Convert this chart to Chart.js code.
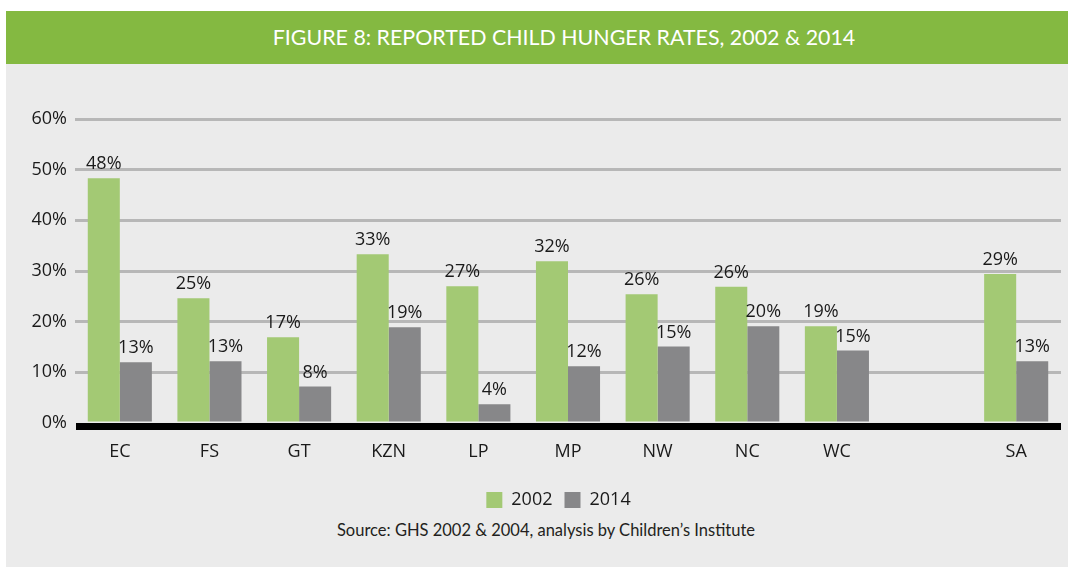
<!DOCTYPE html>
<html>
<head>
<meta charset="utf-8">
<script src="https://cdn.jsdelivr.net/npm/chart.js@4.4.1/dist/chart.umd.min.js"></script>
<style>
  body { margin: 0; background: #ffffff; }
  #panel { position: absolute; left: 6px; top: 11px; width: 1062px; height: 556px; background: #ebebeb; }
  #header { height: 53px; background: #84b941; color: #ffffff; font-family: Lato, sans-serif; font-size: 21.4px;
            text-align: center; line-height: 53px; padding-left: 54px; box-sizing: border-box; }
  #wrap { position: absolute; left: 0; top: 53px; width: 1062px; height: 455px; }
  #source { position: absolute; left: 0; top: 509px; width: 1062px; text-align: center; padding-left: 18px;
            box-sizing: border-box; font-family: Lato, sans-serif; font-size: 16.5px; color: #231f20; }
</style>
</head>
<body>
<div id="panel">
  <div id="header">FIGURE 8: REPORTED CHILD HUNGER RATES, 2002 &amp; 2014</div>
  <div id="wrap"><canvas id="myChart"></canvas></div>
  <div id="source">Source: GHS 2002 &amp; 2004, analysis by Children’s Institute</div>
</div>
<script>
const categories = ['EC', 'FS', 'GT', 'KZN', 'LP', 'MP', 'NW', 'NC', 'WC', '', 'SA'];
const values2002 = [48.3, 24.6, 16.9, 33.3, 27.0, 31.9, 25.4, 26.9, 19.1, null, 29.4];
const values2014 = [12.0, 12.2, 7.2, 18.9, 3.7, 11.2, 15.1, 19.1, 14.3, null, 12.2];
const labels2002 = ['48%', '25%', '17%', '33%', '27%', '32%', '26%', '26%', '19%', '', '29%'];
const labels2014 = ['13%', '13%', '8%', '19%', '4%', '12%', '15%', '20%', '15%', '', '13%'];
const yTicks = [0, 10, 20, 30, 40, 50, 60];

const textColor = '#1a1a1a';
const ctx = document.getElementById('myChart');

// value labels above the bars
const barLabels = {
  id: 'barLabels',
  afterDatasetsDraw(chart) {
    const c = chart.ctx;
    const texts = [labels2002, labels2014];
    c.save();
    c.font = '18px "Open Sans"';
    c.fillStyle = textColor;
    c.textAlign = 'center';
    c.textBaseline = 'bottom';
    chart.data.datasets.forEach(function(ds, i) {
      chart.getDatasetMeta(i).data.forEach(function(bar, j) {
        if (ds.data[j] == null) return;
        c.fillText(texts[i][j], bar.x, bar.y - 5);
      });
    });
    c.restore();
  }
};

// thick black base line at 0%
const baseLine = {
  id: 'baseLine',
  afterDatasetsDraw(chart) {
    const c = chart.ctx;
    const y = chart.scales.y.getPixelForValue(0);
    c.save();
    c.fillStyle = '#000000';
    c.fillRect(chart.chartArea.left + 1, y, chart.chartArea.right - chart.chartArea.left - 1, 7);
    c.restore();
  }
};

// legend sits a bit right of centre in the original
const shiftLegend = {
  id: 'shiftLegend',
  afterLayout(chart) {
    chart.legend.left += 25;
    chart.legend.right += 25;
  }
};

new Chart(ctx, {
  type: 'bar',
  data: {
    labels: categories,
    datasets: [
      { label: '2002', data: values2002, backgroundColor: '#a3c974' },
      { label: '2014', data: values2014, backgroundColor: '#878789' }
    ]
  },
  options: {
    responsive: true,
    maintainAspectRatio: false,
    animation: false,
    datasets: { bar: { categoryPercentage: 0.715, barPercentage: 1.0 } },
    layout: { padding: { left: 0, right: 7, top: 55, bottom: 0 } },
    plugins: {
      tooltip: { enabled: false },
      legend: {
        position: 'bottom',
        labels: {
          boxWidth: 16,
          boxHeight: 16,
          padding: 12,
          color: textColor,
          font: { family: 'Open Sans', size: 18 }
        }
      }
    },
    scales: {
      x: {
        grid: { display: false },
        border: { display: false },
        ticks: { color: textColor, padding: 10, font: { family: 'Open Sans', size: 18 } },
        afterFit: function(scale) { scale.height = 56; }
      },
      y: {
        min: 0,
        max: 60,
        afterBuildTicks: function(scale) { scale.ticks = yTicks.map(function(v) { return { value: v }; }); },
        grid: {
          drawTicks: false,
          lineWidth: 3,
          color: function(c) { return c.tick.value === 0 ? 'rgba(0,0,0,0)' : '#b7b7b7'; }
        },
        border: { display: false },
        ticks: {
          color: textColor,
          padding: 8,
          font: { family: 'Open Sans', size: 18 },
          callback: function(v) { return v + '%'; }
        },
        afterFit: function(scale) { scale.width = 69; }
      }
    }
  },
  plugins: [barLabels, baseLine, shiftLegend]
});
</script>
</body>
</html>
